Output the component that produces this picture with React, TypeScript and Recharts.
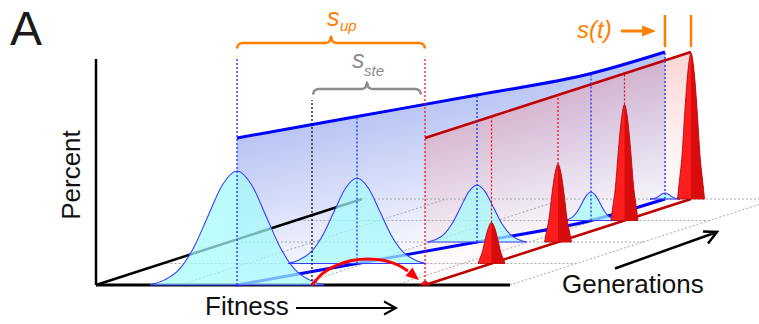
import { ComposedChart, XAxis, YAxis, Area, Line, Scatter } from "recharts";

const W = 759;
const H = 324;

// oblique floor: fitness runs right, each generation steps back up and to the right
const X0 = 96;
const Y0 = 39;
const DX = 66.5;
const DY = 21.5;

const generations = [0, 1, 2, 3, 4];
const blueMean = [141, 194.5, 248, 295.5, 303];
const blueSpread = [29, 23, 16.5, 9, 5];
const bluePeak = [114, 85.5, 57, 28.5, 6];
const redMean = [329, 329, 329, 329, 329];
const redSpread = [2.5, 6, 6, 6, 6];
const redPeak = [4, 41, 78, 116, 146];
const wallHeight = 147;
const fitnessMax = 414;
const percentMax = 226;
const fitnessGrid = [84, 202, 300];
const stepFitness = 216;
const stepTop = 185;
const markerTop = 227;
const supLevel = 242;
const ssteLevel = 196;
const stTicks = [152, 184];

const bellSteps = [-3, -2.5, -2, -1.5, -1, -0.5, 0, 0.5, 1, 1.5, 2, 2.5, 3];
const bellShape = [0, 0.045, 0.135, 0.325, 0.605, 0.88, 1, 0.88, 0.605, 0.325, 0.135, 0.045, 0];
const spikeSteps = [-2.25, -2, -1.5, -1, -0.5, 0, 0.5, 1, 1.5, 2, 2.25];
const spikeShape = [0, 0.1, 0.3, 0.62, 0.88, 1, 0.88, 0.62, 0.3, 0.1, 0];

const arcFitness = [216, 226, 239, 256, 272, 288, 302, 312];
const arcPercent = [0, 11, 19, 24.5, 26, 24.5, 20, 14];
const arcTip = [323, 5];

type P = { x: number; y: number };

const pt = (f: number, g: number, p: number): P => ({ x: X0 + f + g * DX, y: Y0 + p + g * DY });

const wall = (mean: number[]) =>
  generations.map((g) => {
    const b = pt(mean[g], g, 0);
    return { x: b.x, r: [b.y, b.y + wallHeight] };
  });

const edge = (mean: number[], p: number) => generations.map((g) => pt(mean[g], g, p));

const blueWall = wall(blueMean);
const redWall = wall(redMean);

const blueBells = generations.map((g) =>
  bellSteps.map((s, i) => {
    const b = pt(blueMean[g] + s * blueSpread[g], g, 0);
    return { x: b.x, r: [b.y, b.y + bluePeak[g] * bellShape[i]] };
  })
);

const redSpikes = generations.map((g) =>
  spikeSteps.map((s, i) => {
    const b = pt(redMean[g] + s * redSpread[g], g, 0);
    return { x: b.x, r: [b.y, b.y + redPeak[g] * spikeShape[i]] };
  })
);
const redShade = redSpikes.map((d) => d.slice(5));

const floorLines: P[][] = [
  ...generations.slice(1).map((g) => [pt(0, g, 0), pt(fitnessMax, g, 0)]),
  ...[...fitnessGrid, fitnessMax].map((f) => [pt(f, 0, 0), pt(f, 4, 0)]),
];

const axisLines: P[][] = [
  [pt(0, 0, 0), pt(fitnessMax, 0, 0)],
  [pt(0, 0, 0), pt(0, 0, percentMax)],
  [pt(0, 0, 0), pt(0, 4, 0)],
];

const blueMarkers: P[][] = generations.map((g) => [
  pt(blueMean[g], g, 0),
  pt(blueMean[g], g, g === 0 ? markerTop : wallHeight),
]);
const redMarkers: P[][] = generations
  .filter((g) => g < 4)
  .map((g) => [pt(redMean[g], g, g === 0 ? 0 : redPeak[g]), pt(redMean[g], g, g === 0 ? markerTop : wallHeight)]);
const stepMarker: P[] = [pt(stepFitness, 0, 0), pt(stepFitness, 0, stepTop)];

const stMarks: P[][] = [
  [pt(blueMean[4], 4, stTicks[0]), pt(blueMean[4], 4, stTicks[1])],
  [pt(redMean[4], 4, stTicks[0]), pt(redMean[4], 4, stTicks[1])],
];

// curly brace between two fitness values at a given height
const brace = (a: number, b: number, p: number): P[] => {
  const m = (a + b) / 2;
  const raw: [number, number][] = [
    [a, p - 5.5], [a + 1, p - 2.4], [a + 3, p - 0.6], [a + 6, p],
    [m - 6, p], [m - 3, p + 0.6], [m - 1, p + 2.6], [m, p + 6.5],
    [m + 1, p + 2.6], [m + 3, p + 0.6], [m + 6, p],
    [b - 6, p], [b - 3, p - 0.6], [b - 1, p - 2.4], [b, p - 5.5],
  ];
  return raw.map(([f, q]) => pt(f, 0, q));
};

const supBrace = brace(blueMean[0], redMean[0], supLevel);
const ssteBrace = brace(stepFitness + 1, redMean[0] - 4, ssteLevel);

const arc = arcFitness.map((f, i) => pt(f, 0, arcPercent[i]));
const tip = [pt(arcTip[0], 0, arcTip[1])];

const seg = (
  key: string,
  data: P[],
  stroke: string,
  width: number,
  z: number,
  dash?: string,
  type: "linear" | "monotone" = "linear"
) => (
  <Line
    key={key}
    data={data}
    dataKey="y"
    type={type}
    stroke={stroke}
    strokeWidth={width}
    strokeDasharray={dash}
    dot={false}
    activeDot={false}
    isAnimationActive={false}
    zIndex={z}
  />
);

const ArrowHead = (props: any) => {
  const { cx, cy } = props;
  const a = 0.69;
  const len = 13;
  const half = 5.5;
  const bx = cx - len * Math.cos(a);
  const by = cy - len * Math.sin(a);
  const nx = -Math.sin(a) * half;
  const ny = Math.cos(a) * half;
  return <polygon points={`${cx},${cy} ${bx + nx},${by + ny} ${bx - nx},${by - ny}`} fill="#ff0000" />;
};

export default function App() {
  return (
    <div style={{ position: "absolute", left: 0, top: 0, width: W, height: H, background: "#fff" }}>
      <ComposedChart width={W} height={H} margin={{ top: 0, right: 0, bottom: 0, left: 0 }}>
        <defs>
          <linearGradient id="blueWall" gradientUnits="userSpaceOnUse" x1={440} y1={98} x2={468} y2={239}>
            <stop offset="0" stopColor="#b8c4f4" />
            <stop offset="1" stopColor="#f7f8fe" />
          </linearGradient>
          <linearGradient id="redWall" gradientUnits="userSpaceOnUse" x1={556} y1={95} x2={599} y2={228}>
            <stop offset="0" stopColor="#f69595" stopOpacity={0.4} />
            <stop offset="1" stopColor="#f8c8d2" stopOpacity={0.06} />
          </linearGradient>
        </defs>
        <XAxis type="number" dataKey="x" domain={[0, W]} hide allowDataOverflow />
        <YAxis type="number" dataKey="y" domain={[0, H]} hide allowDataOverflow />

        <Area data={blueWall} dataKey="r" type="monotone" stroke="none" fill="url(#blueWall)" fillOpacity={1}
          dot={false} activeDot={false} isAnimationActive={false} zIndex={10} />
        <Area data={redWall} dataKey="r" type="linear" stroke="none" fill="url(#redWall)" fillOpacity={1}
          dot={false} activeDot={false} isAnimationActive={false} zIndex={11} />

        {floorLines.map((d, i) => seg(`floor${i}`, d, "#a8a8a8", 1, 20, "2 2"))}
        {axisLines.map((d, i) => seg(`axis${i}`, d, "#000", i === 0 ? 3 : 2.5, 30))}

        {seg("blueTop", edge(blueMean, wallHeight), "#0000ff", 3, 40, undefined, "monotone")}
        {seg("blueFloor", edge(blueMean, 0), "#0000ff", 3, 40, undefined, "monotone")}
        {seg("redTop", edge(redMean, wallHeight), "#c00000", 2.5, 41)}
        {seg("redFloor", edge(redMean, 0), "#c00000", 2.5, 41)}

        {blueBells.map((d, g) => (
          <Area key={`bell${g}`} data={d} dataKey="r" type="monotone" stroke="#3c3cff" strokeWidth={1.1}
            fill="#a4fbfb" fillOpacity={0.72} dot={false} activeDot={false} isAnimationActive={false} zIndex={50} />
        ))}

        {blueMarkers.map((d, i) => seg(`bm${i}`, d, "#1e3cff", 1.4, 60, "2 2"))}
        {redMarkers.map((d, i) => seg(`rm${i}`, d, "#ff0000", 1.2, 60, "2 2"))}
        {seg("step", stepMarker, "#000", 1.2, 60, "2 2")}

        {redSpikes.map((d, g) => (
          <Area key={`spike${g}`} data={d} dataKey="r" type="monotone" stroke="#a80000" strokeWidth={0.8}
            fill="#ff1e1e" fillOpacity={1} dot={false} activeDot={false} isAnimationActive={false} zIndex={70} />
        ))}
        {redShade.map((d, g) => (
          <Area key={`shade${g}`} data={d} dataKey="r" type="monotone" stroke="none"
            fill="#d80c0c" fillOpacity={1} dot={false} activeDot={false} isAnimationActive={false} zIndex={71} />
        ))}

        {seg("arc", arc, "#ff0000", 3, 80, undefined, "monotone")}
        <Scatter data={tip} dataKey="y" shape={ArrowHead} isAnimationActive={false} zIndex={81} />
        {seg("supBrace", supBrace, "#ff8000", 2.5, 80, undefined, "monotone")}
        {seg("ssteBrace", ssteBrace, "#8c8c8c", 2.5, 80, undefined, "monotone")}
        {stMarks.map((d, i) => seg(`st${i}`, d, "#ff8000", 2.5, 80))}
      </ComposedChart>

      <svg width={W} height={H} style={{ position: "absolute", left: 0, top: 0, pointerEvents: "none" }}
        fontFamily="Liberation Sans, Arial, sans-serif">
        <text x={10} y={45} fontSize={48} fill="#1a1a1a">A</text>
        <text transform="translate(80,175) rotate(-90)" textAnchor="middle" fontSize={26} fill="#111">Percent</text>
        <text x={205} y={315} fontSize={26} fill="#111">Fitness</text>
        <path d="M296 308 H396 M384 301.5 L396 308 L384 314.5" stroke="#000" strokeWidth={2} fill="none" />
        <text x={562} y={293} fontSize={26} fill="#111">Generations</text>
        <path d="M615 268.5 L717 232 M703 231.5 L717 232 L708 243.5" stroke="#000" strokeWidth={2.5} fill="none" />
        <text x={327} y={26} fontSize={25} fontStyle="italic" fill="#ff8000">s</text>
        <text x={340} y={30.5} fontSize={15} fontStyle="italic" fill="#ff8000">up</text>
        <text x={352} y={68} fontSize={25} fontStyle="italic" fill="#8c8c8c">s</text>
        <text x={364} y={76} fontSize={15} fontStyle="italic" fill="#8c8c8c">ste</text>
        <text x={577} y={38} fontSize={24} fontStyle="italic" fill="#ff8000">s(t)</text>
        <path d="M621 31 H645" stroke="#ff8000" strokeWidth={3} />
        <polygon points="642,25.5 656,31 642,36.5" fill="#ff8000" />
      </svg>
    </div>
  );
}
